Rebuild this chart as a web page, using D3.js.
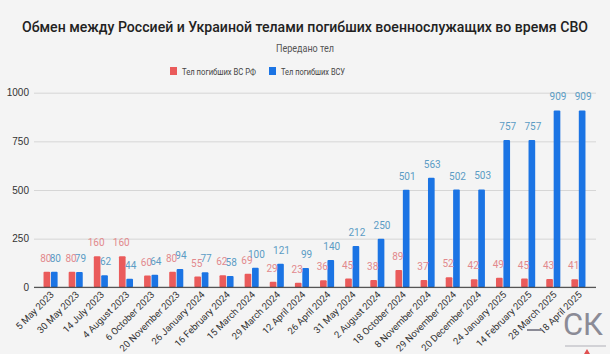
<!DOCTYPE html>
<html>
<head>
<meta charset="utf-8">
<script src="https://cdn.jsdelivr.net/npm/d3@7"></script>
<style>
  body { margin: 0; background: #f4f4f4; }
  svg { display: block; font-family: Roboto, "Noto Sans", sans-serif; }
</style>
</head>
<body>
<div id="container"></div>
<script>
// data
const dates = ["5 May 2023", "30 May 2023", "14 July 2023", "4 August 2023", "6 October 2023",
  "20 November 2023", "26 January 2024", "16 February 2024", "15 March 2024", "29 March 2024",
  "12 April 2024", "26 April 2024", "31 May 2024", "2 August 2024", "18 October 2024",
  "8 November 2024", "29 November 2024", "20 December 2024", "24 January 2025",
  "14 February 2025", "28 March 2025", "18 April 2025"];
const bodiesRF = [80, 80, 160, 160, 60, 80, 55, 62, 69, 29, 23, 36, 45, 38, 89, 37, 52, 42, 49, 45, 43, 41];
const bodiesUA = [80, 79, 62, 44, 64, 94, 77, 58, 100, 121, 99, 140, 212, 250, 501, 563, 502, 503, 757, 757, 909, 909];
const yTicks = [0, 250, 500, 750, 1000];
const seriesNames = ["Тел погибших ВС  РФ", "Тел погибших ВСУ"];

const width = 610, height = 354;
const colors = ["#ea5b5b", "#1b74e4"];
const labelColors = ["#e2898d", "#5b9cc4"];

const svg = d3.select("#container").append("svg")
  .attr("width", width).attr("height", height);

svg.append("rect").attr("width", width).attr("height", height).attr("fill", "#f4f4f4");

// titles
svg.append("text")
  .attr("x", 305).attr("y", 32)
  .attr("text-anchor", "middle")
  .attr("textLength", 566).attr("lengthAdjust", "spacingAndGlyphs")
  .style("font-size", "14.5px").style("font-weight", 500).style("fill", "#222")
  .text("Обмен между Россией и Украиной телами погибших военнослужащих во время СВО");

svg.append("text")
  .attr("x", 305).attr("y", 52)
  .attr("text-anchor", "middle")
  .attr("textLength", 58).attr("lengthAdjust", "spacingAndGlyphs")
  .style("font-size", "11px").style("fill", "#555")
  .text("Передано тел");

// legend
const legendX = [170, 269];
const legendLen = [74, 64];
seriesNames.forEach((name, i) => {
  const g = svg.append("g").attr("transform", `translate(${legendX[i]},67)`);
  g.append("rect").attr("width", 7).attr("height", 8).attr("fill", colors[i]);
  g.append("text").attr("x", 12).attr("y", 7.5)
    .attr("textLength", legendLen[i]).attr("lengthAdjust", "spacingAndGlyphs")
    .style("font-size", "9.5px").style("fill", "#444").text(name);
});

// scales
const x = d3.scaleBand().domain(dates).range([38, 591]).paddingInner(0.44).paddingOuter(0.22);
const xSub = d3.scaleBand().domain([0, 1]).range([0, x.bandwidth()]).paddingInner(0.1);
const y = d3.scaleLinear().domain([0, 1000]).range([287.3, 92.7]);

// grid + y labels
const yAxis = d3.axisLeft(y).tickValues(yTicks).tickSize(-(596 - 34)).tickFormat(d3.format("d"));
svg.append("g")
  .attr("transform", "translate(34,0)")
  .call(yAxis)
  .call(g => g.select(".domain").remove())
  .call(g => g.selectAll(".tick line").attr("stroke", "#d6d6d6"))
  .call(g => g.selectAll(".tick text").attr("x", -5).style("font-size", "10px").style("fill", "#333"));

// bars
const rows = dates.map((d, i) => ({ date: d, vals: [bodiesRF[i], bodiesUA[i]] }));
const groups = svg.selectAll("g.grp").data(rows).join("g")
  .attr("class", "grp")
  .attr("transform", d => `translate(${x(d.date)},0)`);

groups.selectAll("rect").data(d => d.vals).join("rect")
  .attr("x", (v, i) => xSub(i))
  .attr("y", v => y(v))
  .attr("width", xSub.bandwidth())
  .attr("height", v => y(0) - y(v))
  .attr("rx", 1)
  .attr("fill", (v, i) => colors[i]);

groups.selectAll("text").data(d => d.vals).join("text")
  .attr("x", (v, i) => xSub(i) + xSub.bandwidth() / 2 + (i ? 1 : -1))
  .attr("y", v => y(v) - 10)
  .attr("text-anchor", "middle")
  .style("font-size", "10px")
  .style("fill", (v, i) => labelColors[i])
  .text(v => v);

// baseline
svg.append("line")
  .attr("x1", 34).attr("x2", 596)
  .attr("y1", y(0)).attr("y2", y(0))
  .attr("stroke", "#333").attr("stroke-width", 1);

// x labels
svg.append("g").selectAll("text").data(dates).join("text")
  .attr("transform", d => `translate(${x(d) + x.bandwidth() / 2 + 4},${y(0) + 8}) rotate(-45)`)
  .attr("text-anchor", "end")
  .style("font-size", "9.5px").style("fill", "#333")
  .text(d => d);

// watermark
svg.append("text")
  .attr("x", 563).attr("y", 335)
  .attr("textLength", 40).attr("lengthAdjust", "spacingAndGlyphs")
  .style("font-size", "31px").style("fill", "#8b8b96")
  .text("СК");
svg.append("line")
  .attr("x1", 527).attr("x2", 542).attr("y1", 330).attr("y2", 330)
  .attr("stroke", "#8b8b96").attr("stroke-width", 2);
svg.append("line")
  .attr("x1", 565).attr("x2", 606).attr("y1", 346).attr("y2", 346)
  .attr("stroke", "#b0b0b8").attr("stroke-width", 1);
svg.append("path")
  .attr("d", "M584,354 L587,349 L590,354 Z")
  .attr("fill", "#e05050");
</script>
</body>
</html>
